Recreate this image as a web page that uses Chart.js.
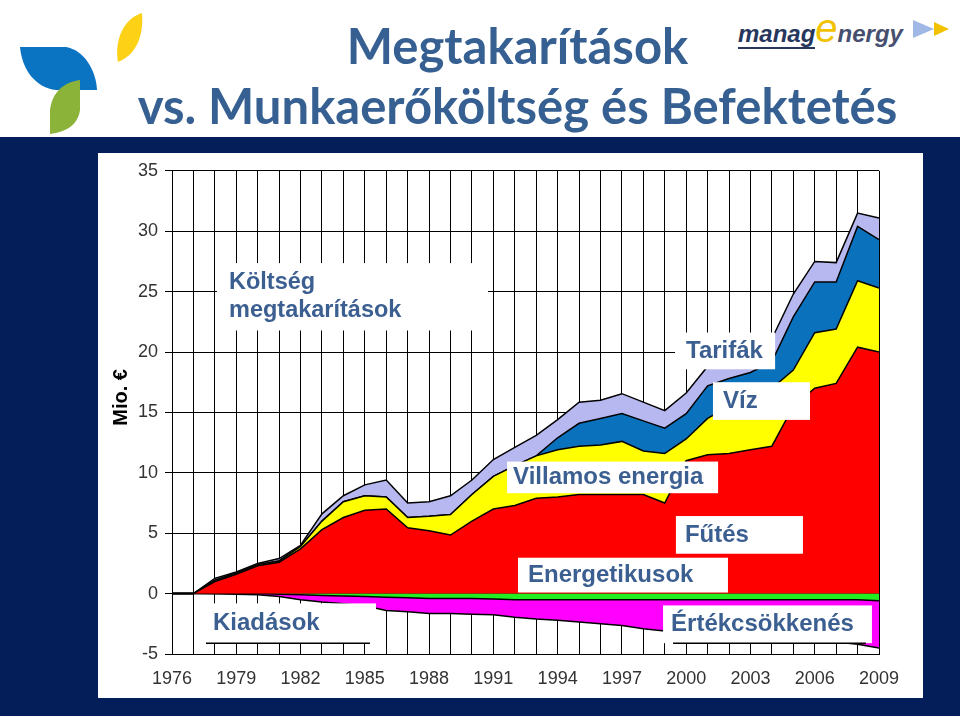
<!DOCTYPE html>
<html>
<head>
<meta charset="utf-8">
<script src="https://cdn.jsdelivr.net/npm/chart.js@4.4.0/dist/chart.umd.min.js"></script>
<style>
  html, body { margin: 0; padding: 0; background: #fff; }
  #page { position: relative; width: 960px; height: 716px; overflow: hidden; background: #fff; }
  .title { position: absolute; left: 0; width: 1035px; text-align: center; color: #376092;
           font-family: Lato, sans-serif; font-weight: 700; font-size: 49px; line-height: 50px; white-space: nowrap; }
  #logo-left { position: absolute; left: 0; top: 0; }
  #logo-right { position: absolute; left: 738px; top: 6px; white-space: nowrap;
                font-family: "Liberation Sans", Arial, sans-serif; font-style: italic; font-weight: 700; }
  #logo-right .m { font-size: 24px; color: #26365c; border-bottom: 2px solid #26365c; }
  #logo-right .e { font-size: 40px; color: #f2c200; font-weight: 400; }
  #logo-right .n { font-size: 24px; color: #46506e; }
  #logo-arrows { position: absolute; left: 910px; top: 16px; }
  #frame { position: absolute; left: 0; top: 137px; width: 960px; height: 579px; background: #041e5a; }
  #panel { position: absolute; left: 98px; top: 153px; width: 825px; height: 545px; background: #fff; }
</style>
</head>
<body>
<div id="page">
  <svg id="logo-left" width="160" height="140">
    <path d="M118 62 C114 40 124 18 142 13 C144 36 136 55 118 62 Z" fill="#fcd116"/>
    <path d="M20 47 L66 47 C84 50 96 70 97 90 L56 90 C36 88 22 70 20 47 Z" fill="#0a73c2"/>
    <path d="M80 80 L80 110 C78 125 66 132 50 134 L50 110 C52 92 64 82 80 80 Z" fill="#8bb33a"/>
  </svg>
  <div id="logo-right"><span class="m">manag</span><span class="e">e</span><span class="n">nergy</span></div>
  <svg id="logo-arrows" width="45" height="30">
    <path d="M3 4 L24 13 L3 22 Z" fill="#9fb8e6"/>
    <path d="M24 6 L39 13 L24 20 Z" fill="#f2c200"/>
  </svg>
  <div class="title" style="top:20px">Megtakarítások</div>
  <div class="title" style="top:80px">vs. Munkaerőköltség és Befektetés</div>
  <div id="frame"></div>
  <div id="panel"><canvas id="chart" width="825" height="545"></canvas></div>
</div>
<script>
const years = [1976, 1977, 1978, 1979, 1980, 1981, 1982, 1983, 1984, 1985, 1986, 1987,
  1988, 1989, 1990, 1991, 1992, 1993, 1994, 1995, 1996, 1997, 1998, 1999,
  2000, 2001, 2002, 2003, 2004, 2005, 2006, 2007, 2008, 2009];

// savings layers (Mio. EUR), stacked upward
const futes = [0, 0, 1.0, 1.6, 2.3, 2.6, 3.7, 5.3, 6.3, 6.9, 7.0, 5.45,
  5.2, 4.85, 6.0, 7.0, 7.3, 7.9, 8.0, 8.2, 8.2, 8.2, 8.2, 7.5,
  11.0, 11.5, 11.6, 11.9, 12.2, 15.5, 17.0, 17.4, 20.4, 20.0];
const villamos = [0, 0, 0.1, 0.1, 0.1, 0.1, 0.2, 0.7, 1.3, 1.2, 1.0, 0.85,
  1.2, 1.7, 2.2, 2.7, 3.3, 3.5, 3.9, 4.0, 4.1, 4.4, 3.6, 4.1,
  1.8, 3.0, 3.9, 4.3, 4.8, 3.0, 4.6, 4.5, 5.5, 5.3];
const viz = [0, 0, 0, 0, 0, 0, 0, 0, 0, 0, 0, 0,
  0, 0, 0, 0, 0, 0, 1.0, 1.9, 2.2, 2.3, 2.5, 2.1,
  2.1, 2.7, 2.3, 2.1, 2.2, 4.4, 4.2, 3.9, 4.5, 4.0];
const tarifak = [0, 0, 0.15, 0.1, 0.1, 0.2, 0.1, 0.6, 0.5, 0.9, 1.4, 1.2,
  1.2, 1.55, 1.2, 1.4, 1.5, 1.7, 1.5, 1.75, 1.5, 1.65, 1.55, 1.45,
  1.7, 1.6, 1.6, 1.5, 1.9, 1.9, 1.7, 1.6, 1.1, 1.8];

// expenses, stacked downward
const energetikusok = [0, 0, 0, 0, 0, -0.05, -0.1, -0.15, -0.2, -0.25, -0.3, -0.35,
  -0.4, -0.4, -0.4, -0.45, -0.5, -0.5, -0.5, -0.5, -0.5, -0.5, -0.5, -0.5,
  -0.5, -0.5, -0.5, -0.5, -0.5, -0.5, -0.5, -0.5, -0.5, -0.6];
const ertekcsokkenes = [0, 0, -0.02, -0.05, -0.1, -0.2, -0.4, -0.55, -0.65, -0.75, -1.1, -1.15,
  -1.25, -1.25, -1.3, -1.3, -1.45, -1.6, -1.7, -1.85, -2.0, -2.15, -2.4, -2.6,
  -2.8, -2.9, -3.0, -3.1, -3.2, -3.3, -3.4, -3.5, -3.7, -3.9];

const yTicks = [-5, 0, 5, 10, 15, 20, 25, 30, 35];

// text boxes placed in data units: [year, value]
const boxes = [
  { lines: ['Költség', 'megtakarítások'], from: [1978.1, 27.36], to: [1990.75, 21.78], size: 23.5, pad: 12 },
  { lines: ['Tarifák'], from: [1999.48, 21.61], to: [2004.15, 18.57], size: 24, pad: 11 },
  { lines: ['Víz'], from: [2001.25, 17.5], to: [2005.78, 14.38], size: 24, pad: 10 },
  { lines: ['Villamos energia'], from: [1991.64, 10.93], to: [2001.49, 8.31], size: 24, pad: 6 },
  { lines: ['Fűtés'], from: [1999.52, 6.42], to: [2005.45, 3.3], size: 24, pad: 9 },
  { lines: ['Energetikusok'], from: [1992.15, 2.97], to: [2001.95, 0.09], size: 24, pad: 10 },
  { lines: ['Értékcsökkenés'], from: [1998.92, -0.98], to: [2008.67, -4.1], size: 24, pad: 8, rule: true },
  { lines: ['Kiadások'], from: [1977.12, -0.81], to: [1985.52, -4.1], size: 24, pad: 17, rule: true },
];

const font = '"Liberation Sans", Arial, sans-serif';

const boxPlugin = {
  id: 'boxes',
  afterDatasetsDraw(chart) {
    const { ctx, scales: { x, y } } = chart;
    ctx.save();
    boxes.forEach((b) => {
      const x0 = x.getPixelForValue(b.from[0] - years[0]);
      const x1 = x.getPixelForValue(b.to[0] - years[0]);
      const y0 = y.getPixelForValue(b.from[1]);
      const y1 = y.getPixelForValue(b.to[1]);
      ctx.fillStyle = '#fff';
      ctx.fillRect(x0, y0, x1 - x0, y1 - y0);
      if (b.rule) {
        ctx.strokeStyle = '#000';
        ctx.lineWidth = 1.5;
        ctx.beginPath();
        ctx.moveTo(x0 + 10, y1);
        ctx.lineTo(x1 - 6, y1);
        ctx.stroke();
      }
      ctx.fillStyle = '#3c5f91';
      ctx.font = `bold ${b.size}px ${font}`;
      ctx.textAlign = 'left';
      ctx.textBaseline = 'middle';
      const step = 28;
      const mid = (y0 + y1) / 2 - (b.lines.length - 1) * step / 2;
      b.lines.forEach((t, i) => ctx.fillText(t, x0 + b.pad, mid + i * step));
    });
    // axis title
    ctx.translate(23, (y.top + y.bottom) / 2 - 15);
    ctx.rotate(-Math.PI / 2);
    ctx.fillStyle = '#000';
    ctx.font = `bold 20px ${font}`;
    ctx.textAlign = 'center';
    ctx.fillText('Mio. €', 0, 0);
    ctx.restore();
  },
};

const layer = (label, data, color, fill, stack) => ({
  label, data, fill, stack,
  backgroundColor: color,
  borderColor: '#000',
  borderWidth: 1.5,
  pointRadius: 0,
  tension: 0,
});

new Chart(document.getElementById('chart'), {
  type: 'line',
  data: {
    labels: years,
    datasets: [
      layer('Fűtés', futes, '#ff0000', 'origin', 'pos'),
      layer('Villamos energia', villamos, '#ffff00', '-1', 'pos'),
      layer('Víz', viz, '#0a72bd', '-1', 'pos'),
      layer('Tarifák', tarifak, '#b8b8f0', '-1', 'pos'),
      layer('Energetikusok', energetikusok, '#22ee22', 'origin', 'neg'),
      layer('Értékcsökkenés', ertekcsokkenes, '#ff00ff', '-1', 'neg'),
    ],
  },
  options: {
    responsive: false,
    animation: false,
    layout: { padding: { left: 0, right: 44, top: 14, bottom: 0 } },
    plugins: { legend: { display: false }, tooltip: { enabled: false } },
    scales: {
      x: {
        offset: false,
        grid: { color: '#000', lineWidth: 1, drawTicks: false },
        border: { color: '#000', width: 1 },
        ticks: {
          autoSkip: false,
          maxRotation: 0,
          padding: 14,
          color: '#333',
          font: { family: font, size: 18 },
          callback(v, i) { return i % 3 === 0 ? this.getLabelForValue(v) : ''; },
        },
        afterFit(s) { s.height = 44; },
      },
      y: {
        stacked: true,
        min: yTicks[0],
        max: yTicks[yTicks.length - 1],
        afterBuildTicks(s) { s.ticks = yTicks.map((v) => ({ value: v })); },
        grid: { color: '#000', lineWidth: 1, tickLength: 7, tickColor: '#000' },
        border: { color: '#000', width: 1 },
        ticks: { padding: 7, color: '#333', font: { family: font, size: 18 } },
        afterFit(s) { s.width = 74; },
      },
    },
  },
  plugins: [boxPlugin],
});
</script>
</body>
</html>
